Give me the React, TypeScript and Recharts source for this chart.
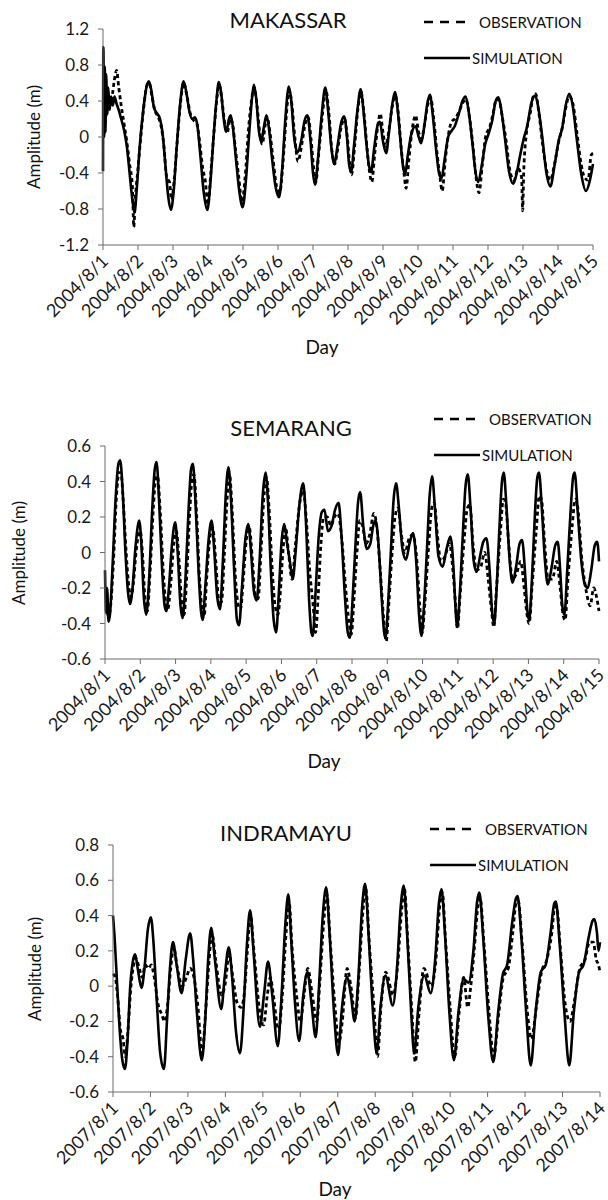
import { LineChart, Line, XAxis, YAxis } from "recharts";

// --- tick labels ---
const days2004 = [
  "2004/8/1", "2004/8/2", "2004/8/3", "2004/8/4", "2004/8/5", "2004/8/6", "2004/8/7", "2004/8/8",
  "2004/8/9", "2004/8/10", "2004/8/11", "2004/8/12", "2004/8/13", "2004/8/14", "2004/8/15",
];
const days2007 = [
  "2007/8/1", "2007/8/2", "2007/8/3", "2007/8/4", "2007/8/5", "2007/8/6", "2007/8/7",
  "2007/8/8", "2007/8/9", "2007/8/10", "2007/8/11", "2007/8/12", "2007/8/13", "2007/8/14",
];
const makTicks = [-1.2, -0.8, -0.4, 0, 0.4, 0.8, 1.2];
const semTicks = [-0.6, -0.4, -0.2, 0, 0.2, 0.4, 0.6];
const indTicks = [-0.6, -0.4, -0.2, 0, 0.2, 0.4, 0.6, 0.8];

// --- series: [day offset, amplitude m] ---
const makSim: [number, number][] = [
  [0, -0.38], [0.01, 1.0], [0.03, 0.0], [0.05, 0.78], [0.07, 0.05], [0.09, 0.7], [0.12, 0.25], [0.15, 0.55],
  [0.19, 0.3], [0.23, 0.45], [0.28, 0.35], [0.33, 0.45], [0.38, 0.38], [0.45, 0.3], [0.52, 0.2], [0.6, 0.08],
  [0.68, -0.1], [0.76, -0.4], [0.84, -0.7], [0.9, -0.84], [0.97, -0.55], [1.05, -0.1], [1.15, 0.3], [1.24, 0.55],
  [1.31, 0.62], [1.38, 0.52], [1.46, 0.32], [1.55, 0.26], [1.63, 0.2], [1.7, 0.05], [1.78, -0.3], [1.86, -0.65],
  [1.94, -0.81], [2.02, -0.6], [2.1, -0.15], [2.2, 0.35], [2.3, 0.62], [2.38, 0.5], [2.47, 0.28], [2.55, 0.2],
  [2.63, 0.22], [2.7, 0.12], [2.78, -0.2], [2.88, -0.62], [2.98, -0.81], [3.06, -0.55], [3.15, -0.05], [3.24, 0.4],
  [3.31, 0.61], [3.38, 0.48], [3.45, 0.2], [3.52, 0.06], [3.6, 0.2], [3.65, 0.24], [3.72, 0.08], [3.8, -0.25],
  [3.9, -0.62], [3.99, -0.78], [4.08, -0.5], [4.17, 0.0], [4.25, 0.4], [4.31, 0.58], [4.38, 0.42], [4.45, 0.08],
  [4.52, -0.05], [4.6, 0.12], [4.67, 0.24], [4.74, 0.1], [4.82, -0.2], [4.93, -0.55], [5.03, -0.67], [5.12, -0.35],
  [5.21, 0.2], [5.31, 0.56], [5.38, 0.4], [5.46, 0.0], [5.56, -0.17], [5.66, -0.05], [5.76, 0.18], [5.84, 0.24],
  [5.93, -0.05], [6.0, -0.4], [6.06, -0.53], [6.14, -0.25], [6.25, 0.25], [6.35, 0.55], [6.43, 0.3], [6.52, -0.1],
  [6.61, -0.3], [6.7, -0.1], [6.8, 0.15], [6.89, 0.23], [6.97, 0.0], [7.03, -0.3], [7.09, -0.39], [7.17, -0.1],
  [7.27, 0.3], [7.36, 0.53], [7.44, 0.3], [7.52, -0.05], [7.6, -0.32], [7.66, -0.39], [7.74, -0.15], [7.84, 0.12],
  [7.91, 0.17], [8.0, -0.05], [8.09, -0.18], [8.17, 0.05], [8.26, 0.35], [8.34, 0.5], [8.42, 0.3], [8.5, -0.05],
  [8.57, -0.32], [8.63, -0.42], [8.71, -0.2], [8.82, 0.05], [8.93, 0.12], [9.02, 0.0], [9.09, -0.07], [9.18, 0.12],
  [9.27, 0.38], [9.34, 0.47], [9.42, 0.25], [9.52, -0.15], [9.6, -0.4], [9.67, -0.46], [9.76, -0.25], [9.86, 0.0],
  [9.96, 0.07], [10.05, 0.12], [10.16, 0.25], [10.27, 0.4], [10.36, 0.45], [10.45, 0.28], [10.55, -0.05],
  [10.64, -0.38], [10.72, -0.5], [10.82, -0.32], [10.92, -0.08], [11.02, 0.04], [11.12, 0.18], [11.22, 0.4],
  [11.3, 0.44], [11.38, 0.3], [11.48, 0.0], [11.6, -0.38], [11.72, -0.52], [11.82, -0.4], [11.92, -0.2],
  [12.02, -0.02], [12.12, 0.12], [12.24, 0.38], [12.35, 0.46], [12.44, 0.32], [12.55, 0.0], [12.67, -0.4],
  [12.78, -0.55], [12.9, -0.32], [13.02, -0.04], [13.12, 0.1], [13.22, 0.35], [13.32, 0.48], [13.42, 0.35],
  [13.53, 0.0], [13.66, -0.4], [13.8, -0.6], [13.9, -0.5], [14.0, -0.3],
];
const makObs: [number, number][] = [
  [0.25, 0.4], [0.32, 0.62], [0.39, 0.74], [0.45, 0.55], [0.52, 0.35], [0.6, 0.15], [0.68, -0.05], [0.76, -0.3],
  [0.84, -0.55], [0.88, -1.0], [0.92, -0.7], [1.0, -0.35], [1.08, 0.0], [1.17, 0.35], [1.26, 0.58], [1.32, 0.6],
  [1.4, 0.45], [1.48, 0.3], [1.58, 0.22], [1.66, 0.12], [1.74, -0.1], [1.82, -0.45], [1.9, -0.5], [1.96, -0.7],
  [2.04, -0.45], [2.12, -0.05], [2.22, 0.4], [2.31, 0.6], [2.4, 0.45], [2.5, 0.25], [2.6, 0.18], [2.68, 0.15],
  [2.76, -0.05], [2.85, -0.35], [2.92, -0.48], [3.0, -0.75], [3.08, -0.4], [3.17, 0.05], [3.26, 0.45], [3.32, 0.58],
  [3.4, 0.4], [3.48, 0.15], [3.55, 0.05], [3.63, 0.2], [3.7, 0.15], [3.78, -0.12], [3.88, -0.45], [3.97, -0.72],
  [4.06, -0.45], [4.15, 0.05], [4.24, 0.4], [4.32, 0.55], [4.4, 0.35], [4.48, 0.05], [4.55, -0.08], [4.63, 0.12],
  [4.69, 0.22], [4.77, 0.05], [4.86, -0.25], [4.96, -0.55], [5.05, -0.62], [5.14, -0.3], [5.23, 0.2], [5.32, 0.52],
  [5.4, 0.35], [5.48, 0.0], [5.57, -0.27], [5.68, -0.08], [5.78, 0.15], [5.86, 0.22], [5.95, -0.05], [6.02, -0.35],
  [6.08, -0.5], [6.16, -0.2], [6.27, 0.25], [6.37, 0.52], [6.45, 0.28], [6.54, -0.15], [6.62, -0.3], [6.7, -0.15],
  [6.8, 0.1], [6.9, 0.2], [6.98, 0.0], [7.05, -0.3], [7.1, -0.42], [7.19, -0.1], [7.28, 0.3], [7.37, 0.5],
  [7.46, 0.25], [7.55, -0.15], [7.62, -0.4], [7.68, -0.5], [7.76, -0.2], [7.86, 0.15], [7.92, 0.26], [8.0, 0.05],
  [8.08, -0.1], [8.17, 0.08], [8.27, 0.35], [8.35, 0.46], [8.44, 0.25], [8.52, -0.12], [8.6, -0.4], [8.66, -0.57],
  [8.74, -0.25], [8.84, 0.1], [8.93, 0.24], [9.02, 0.05], [9.1, -0.02], [9.19, 0.15], [9.28, 0.36], [9.36, 0.44],
  [9.45, 0.2], [9.55, -0.2], [9.63, -0.45], [9.69, -0.6], [9.78, -0.25], [9.88, 0.05], [9.96, 0.17], [10.05, 0.2],
  [10.17, 0.28], [10.28, 0.38], [10.37, 0.42], [10.47, 0.22], [10.57, -0.1], [10.66, -0.45], [10.74, -0.62],
  [10.84, -0.3], [10.94, 0.02], [11.04, 0.1], [11.14, 0.25], [11.24, 0.42], [11.32, 0.4], [11.41, 0.22],
  [11.52, -0.05], [11.63, -0.38], [11.74, -0.48], [11.86, -0.35], [11.96, -0.45], [11.99, -0.82], [12.02, -0.4],
  [12.1, 0.05], [12.2, 0.25], [12.3, 0.46], [12.36, 0.48], [12.46, 0.25], [12.56, -0.08], [12.68, -0.38],
  [12.78, -0.48], [12.9, -0.3], [13.02, -0.05], [13.12, 0.1], [13.22, 0.32], [13.32, 0.45], [13.42, 0.38],
  [13.54, 0.05], [13.66, -0.3], [13.76, -0.45], [13.86, -0.48], [13.95, -0.2], [14.0, -0.18],
];

const semSim: [number, number][] = [
  [0, -0.1], [0.03, -0.34], [0.06, -0.2], [0.1, -0.39], [0.14, -0.35], [0.22, -0.05], [0.3, 0.3], [0.38, 0.5],
  [0.43, 0.52], [0.5, 0.35], [0.58, 0.0], [0.65, -0.22], [0.71, -0.29], [0.78, -0.2], [0.86, 0.02], [0.93, 0.15],
  [0.97, 0.18], [1.03, 0.05], [1.1, -0.25], [1.17, -0.35], [1.25, -0.15], [1.34, 0.25], [1.41, 0.47], [1.46, 0.51],
  [1.53, 0.3], [1.62, -0.1], [1.69, -0.3], [1.74, -0.33], [1.81, -0.2], [1.9, 0.05], [1.99, 0.17], [2.06, 0.0],
  [2.14, -0.3], [2.2, -0.37], [2.28, -0.15], [2.37, 0.25], [2.44, 0.47], [2.49, 0.5], [2.56, 0.3], [2.65, -0.1],
  [2.72, -0.33], [2.77, -0.38], [2.84, -0.2], [2.94, 0.08], [3.02, 0.18], [3.1, 0.0], [3.18, -0.25], [3.26, -0.32],
  [3.34, -0.05], [3.43, 0.35], [3.5, 0.48], [3.57, 0.3], [3.66, -0.1], [3.74, -0.38], [3.8, -0.41], [3.88, -0.2],
  [3.98, 0.08], [4.06, 0.16], [4.14, 0.0], [4.22, -0.22], [4.3, -0.27], [4.38, -0.05], [4.47, 0.32], [4.55, 0.45],
  [4.62, 0.28], [4.7, -0.1], [4.78, -0.38], [4.85, -0.45], [4.92, -0.25], [5.0, 0.05], [5.08, 0.16], [5.16, 0.05],
  [5.24, -0.05], [5.32, -0.15], [5.4, 0.0], [5.5, 0.25], [5.58, 0.37], [5.62, 0.39], [5.7, 0.15], [5.78, -0.25],
  [5.85, -0.45], [5.89, -0.47], [5.96, -0.25], [6.06, 0.1], [6.15, 0.23], [6.22, 0.24], [6.32, 0.12], [6.42, 0.15],
  [6.52, 0.24], [6.62, 0.28], [6.7, 0.1], [6.8, -0.25], [6.88, -0.45], [6.94, -0.48], [7.02, -0.25], [7.1, 0.05],
  [7.17, 0.28], [7.23, 0.34], [7.32, 0.15], [7.42, 0.02], [7.52, 0.05], [7.6, 0.15], [7.67, 0.18], [7.75, 0.05],
  [7.84, -0.25], [7.91, -0.45], [7.95, -0.48], [8.02, -0.3], [8.1, 0.0], [8.18, 0.3], [8.25, 0.39], [8.33, 0.25],
  [8.43, 0.02], [8.53, -0.04], [8.63, 0.05], [8.73, 0.11], [8.82, -0.05], [8.9, -0.35], [8.97, -0.47], [9.04, -0.3],
  [9.12, 0.0], [9.2, 0.32], [9.27, 0.43], [9.35, 0.25], [9.45, -0.02], [9.57, -0.08], [9.68, 0.02], [9.79, 0.09],
  [9.88, -0.1], [9.93, -0.3], [9.98, -0.42], [10.05, -0.25], [10.14, 0.1], [10.22, 0.38], [10.28, 0.44],
  [10.36, 0.25], [10.45, -0.05], [10.53, -0.11], [10.63, -0.02], [10.72, 0.06], [10.81, 0.08], [10.9, -0.1],
  [10.97, -0.33], [11.03, -0.4], [11.1, -0.2], [11.18, 0.15], [11.25, 0.4], [11.3, 0.45], [11.38, 0.25],
  [11.47, -0.05], [11.55, -0.17], [11.65, -0.08], [11.75, 0.05], [11.82, 0.07], [11.9, -0.1], [11.97, -0.33],
  [12.02, -0.38], [12.1, -0.15], [12.18, 0.2], [12.25, 0.42], [12.3, 0.45], [12.38, 0.25], [12.47, -0.05],
  [12.55, -0.18], [12.66, -0.08], [12.76, 0.04], [12.83, 0.06], [12.9, -0.1], [12.96, -0.3], [13.02, -0.35],
  [13.1, -0.1], [13.2, 0.25], [13.27, 0.43], [13.31, 0.45], [13.4, 0.22], [13.5, -0.05], [13.6, -0.18],
  [13.68, -0.2], [13.78, -0.1], [13.88, 0.04], [13.95, 0.06], [14.0, -0.05],
];
const semObs: [number, number][] = [
  [0.05, -0.3], [0.1, -0.36], [0.16, -0.3], [0.24, -0.05], [0.32, 0.3], [0.4, 0.45], [0.45, 0.45], [0.52, 0.28],
  [0.6, 0.0], [0.68, -0.2], [0.74, -0.25], [0.8, -0.18], [0.88, 0.0], [0.95, 0.1], [1.0, 0.12], [1.06, 0.0],
  [1.13, -0.25], [1.2, -0.33], [1.28, -0.1], [1.37, 0.25], [1.44, 0.42], [1.49, 0.43], [1.56, 0.25], [1.65, -0.1],
  [1.72, -0.28], [1.78, -0.32], [1.86, -0.18], [1.95, 0.05], [2.02, 0.12], [2.1, -0.05], [2.18, -0.3], [2.24, -0.35],
  [2.32, -0.12], [2.4, 0.22], [2.47, 0.42], [2.52, 0.44], [2.6, 0.2], [2.68, -0.15], [2.76, -0.33], [2.81, -0.36],
  [2.88, -0.15], [2.97, 0.08], [3.05, 0.14], [3.14, -0.05], [3.22, -0.26], [3.3, -0.28], [3.38, -0.02], [3.46, 0.3],
  [3.53, 0.44], [3.6, 0.25], [3.7, -0.15], [3.78, -0.3], [3.84, -0.32], [3.92, -0.15], [4.01, 0.08], [4.09, 0.14],
  [4.18, -0.05], [4.26, -0.24], [4.34, -0.26], [4.42, 0.0], [4.5, 0.3], [4.58, 0.42], [4.65, 0.25], [4.74, -0.1],
  [4.82, -0.3], [4.9, -0.35], [4.96, -0.25], [5.04, 0.0], [5.12, 0.14], [5.2, 0.0], [5.3, -0.15], [5.4, 0.05],
  [5.52, 0.28], [5.62, 0.35], [5.7, 0.2], [5.8, -0.1], [5.9, -0.3], [5.97, -0.45], [6.04, -0.25], [6.12, 0.05],
  [6.2, 0.2], [6.3, 0.2], [6.4, 0.15], [6.5, 0.2], [6.6, 0.22], [6.7, 0.1], [6.82, -0.2], [6.92, -0.4], [6.98, -0.46],
  [7.06, -0.25], [7.14, 0.0], [7.22, 0.18], [7.3, 0.15], [7.4, 0.05], [7.5, 0.1], [7.62, 0.22], [7.7, 0.15],
  [7.8, -0.1], [7.9, -0.38], [7.97, -0.5], [8.04, -0.3], [8.12, -0.05], [8.22, 0.2], [8.3, 0.25], [8.4, 0.1],
  [8.5, 0.0], [8.62, 0.08], [8.72, 0.1], [8.84, -0.05], [8.92, -0.3], [8.99, -0.45], [9.06, -0.3], [9.16, 0.0],
  [9.26, 0.25], [9.33, 0.28], [9.42, 0.1], [9.52, -0.05], [9.64, -0.02], [9.76, 0.05], [9.86, -0.1], [9.93, -0.28],
  [9.99, -0.43], [10.06, -0.25], [10.17, 0.05], [10.27, 0.25], [10.34, 0.27], [10.43, 0.05], [10.53, -0.1],
  [10.65, -0.08], [10.76, 0.0], [10.86, -0.15], [10.95, -0.32], [11.02, -0.42], [11.08, -0.25], [11.2, 0.1],
  [11.29, 0.3], [11.35, 0.28], [11.44, 0.05], [11.55, -0.15], [11.66, -0.12], [11.78, -0.05], [11.88, -0.2],
  [11.96, -0.35], [12.02, -0.4], [12.1, -0.2], [12.22, 0.12], [12.31, 0.32], [12.37, 0.3], [12.46, 0.05],
  [12.56, -0.15], [12.68, -0.15], [12.8, -0.05], [12.9, -0.2], [12.98, -0.35], [13.04, -0.38], [13.12, -0.15],
  [13.24, 0.15], [13.33, 0.3], [13.4, 0.25], [13.52, -0.05], [13.64, -0.22], [13.75, -0.3], [13.85, -0.2],
  [13.93, -0.25], [14.0, -0.33],
];

const indSim: [number, number][] = [
  [0, 0.4], [0.05, 0.25], [0.1, 0.05], [0.17, -0.22], [0.25, -0.42], [0.32, -0.47], [0.39, -0.3], [0.46, 0.0],
  [0.53, 0.14], [0.59, 0.18], [0.66, 0.1], [0.76, -0.01], [0.84, 0.1], [0.93, 0.32], [1.01, 0.39], [1.08, 0.25],
  [1.16, -0.05], [1.26, -0.38], [1.36, -0.47], [1.44, -0.2], [1.52, 0.1], [1.6, 0.25], [1.7, 0.12], [1.83, -0.04],
  [1.94, 0.15], [2.06, 0.3], [2.14, 0.15], [2.24, -0.15], [2.37, -0.42], [2.46, -0.2], [2.54, 0.15], [2.62, 0.33],
  [2.72, 0.15], [2.89, -0.13], [2.98, 0.05], [3.09, 0.22], [3.18, 0.05], [3.28, -0.25], [3.39, -0.38], [3.48, -0.15],
  [3.57, 0.22], [3.66, 0.43], [3.75, 0.2], [3.92, -0.23], [4.03, -0.05], [4.14, 0.14], [4.25, -0.05], [4.4, -0.34],
  [4.5, -0.05], [4.6, 0.35], [4.68, 0.52], [4.76, 0.25], [4.86, -0.1], [4.97, -0.31], [5.08, -0.05], [5.19, 0.08],
  [5.3, -0.1], [5.41, -0.29], [5.5, 0.0], [5.6, 0.4], [5.69, 0.56], [5.78, 0.3], [5.9, -0.15], [6.01, -0.39],
  [6.1, -0.15], [6.25, 0.05], [6.35, -0.05], [6.45, -0.2], [6.55, 0.05], [6.65, 0.45], [6.73, 0.58], [6.82, 0.3],
  [6.94, -0.15], [7.04, -0.38], [7.14, -0.12], [7.27, 0.06], [7.47, -0.11], [7.58, 0.1], [7.68, 0.45], [7.76, 0.57],
  [7.85, 0.3], [7.96, -0.15], [8.04, -0.38], [8.15, -0.12], [8.31, 0.06], [8.48, -0.04], [8.6, 0.15], [8.7, 0.47],
  [8.77, 0.55], [8.86, 0.3], [8.98, -0.15], [9.1, -0.42], [9.22, -0.15], [9.36, 0.04], [9.49, 0.02], [9.62, 0.2],
  [9.72, 0.48], [9.78, 0.53], [9.88, 0.28], [10.02, -0.18], [10.15, -0.43], [10.28, -0.15], [10.41, 0.07],
  [10.52, 0.12], [10.65, 0.35], [10.76, 0.5], [10.8, 0.51], [10.9, 0.28], [11.03, -0.15], [11.15, -0.45],
  [11.28, -0.15], [11.42, 0.08], [11.55, 0.12], [11.68, 0.3], [11.78, 0.47], [11.82, 0.48], [11.92, 0.25],
  [12.05, -0.15], [12.18, -0.45], [12.3, -0.15], [12.44, 0.08], [12.56, 0.12], [12.7, 0.28], [12.8, 0.37],
  [12.85, 0.38], [12.92, 0.3], [12.96, 0.2], [13.0, 0.25],
];
const indObs: [number, number][] = [
  [0, 0.07], [0.06, 0.05], [0.12, -0.05], [0.2, -0.25], [0.27, -0.3], [0.33, -0.4], [0.4, -0.25], [0.48, 0.0],
  [0.55, 0.12], [0.6, 0.16], [0.68, 0.12], [0.78, 0.05], [0.86, 0.12], [0.95, 0.1], [1.02, 0.12], [1.1, 0.05],
  [1.2, -0.1], [1.3, -0.16], [1.38, -0.2], [1.46, -0.1], [1.54, 0.1], [1.62, 0.22], [1.72, 0.1], [1.85, 0.0],
  [1.96, 0.05], [2.06, 0.1], [2.16, 0.05], [2.26, -0.1], [2.38, -0.38], [2.47, -0.15], [2.55, 0.1], [2.64, 0.3],
  [2.74, 0.15], [2.9, -0.05], [3.0, 0.02], [3.1, 0.18], [3.2, 0.05], [3.32, -0.1], [3.42, -0.12], [3.5, -0.05],
  [3.58, 0.18], [3.67, 0.4], [3.77, 0.18], [3.92, -0.15], [4.02, -0.22], [4.12, -0.05], [4.2, 0.05], [4.28, -0.05],
  [4.42, -0.25], [4.52, -0.05], [4.62, 0.3], [4.7, 0.48], [4.78, 0.22], [4.9, -0.05], [5.0, -0.2], [5.1, -0.05],
  [5.2, 0.1], [5.32, -0.05], [5.44, -0.2], [5.52, 0.02], [5.62, 0.35], [5.71, 0.52], [5.8, 0.25], [5.92, -0.1],
  [6.03, -0.32], [6.12, -0.2], [6.25, 0.1], [6.35, 0.0], [6.47, -0.18], [6.57, 0.08], [6.67, 0.42], [6.75, 0.55],
  [6.84, 0.25], [6.96, -0.1], [7.06, -0.4], [7.16, -0.1], [7.28, 0.08], [7.48, -0.05], [7.6, 0.12], [7.7, 0.42],
  [7.78, 0.55], [7.87, 0.25], [7.98, -0.15], [8.07, -0.43], [8.17, -0.15], [8.3, 0.1], [8.5, 0.0], [8.62, 0.15],
  [8.72, 0.45], [8.79, 0.53], [8.88, 0.25], [9.0, -0.12], [9.12, -0.4], [9.24, -0.15], [9.36, 0.05], [9.47, -0.12],
  [9.55, 0.0], [9.64, 0.2], [9.74, 0.45], [9.8, 0.5], [9.9, 0.25], [10.04, -0.15], [10.16, -0.4], [10.3, -0.15],
  [10.42, 0.05], [10.55, 0.1], [10.67, 0.3], [10.77, 0.48], [10.82, 0.48], [10.92, 0.25], [11.05, -0.12],
  [11.17, -0.3], [11.3, -0.12], [11.44, 0.08], [11.58, 0.15], [11.7, 0.28], [11.8, 0.45], [11.84, 0.45],
  [11.94, 0.22], [12.07, -0.1], [12.2, -0.2], [12.32, -0.08], [12.46, 0.1], [12.6, 0.15], [12.72, 0.25],
  [12.82, 0.25], [12.9, 0.15], [12.96, 0.12], [13.0, 0.08],
];

const FONT = "Lato, 'Open Sans', sans-serif";
const pts = (s: [number, number][]) => s.map(([t, v]) => ({ t, v }));
const fmtY = (v: number) => (v === 0 ? "0" : v.toFixed(1));

function DayTick(props: any) {
  const { x, y, payload, labels } = props;
  const ax = x + 2, ay = y + 6;
  return (
    <text x={ax} y={ay} transform={`rotate(-45 ${ax} ${ay})`} textAnchor="end" dy="0.35em"
      fontSize={18} fill="#1a1a1a" fontFamily={FONT}>{labels[payload.value]}</text>
  );
}

interface Panel {
  title: string; plotTop: number; plotBottom: number; plotLeft: number; plotRight: number;
  labels: string[]; yTicks: number[]; sim: [number, number][]; obs: [number, number][];
  titleX: number; titleY: number; legX: number; legY: number; yLabX: number; dayX: number; dayY: number;
}

function TidePanel({ p }: { p: Panel }) {
  const nDays = p.labels.length - 1;
  const yW = 50;
  const mTop = 10;
  const plotH = p.plotBottom - p.plotTop;
  const h = mTop + plotH + 110;
  const text = { position: "absolute" as const, fontFamily: FONT, color: "#111", whiteSpace: "nowrap" as const };
  return (
    <>
      <div style={{ position: "absolute", left: 0, top: p.plotTop - mTop }}>
        <LineChart width={608} height={h}
          margin={{ top: mTop, right: 608 - p.plotRight, bottom: 10, left: p.plotLeft - yW }}>
          <XAxis type="number" dataKey="t" domain={[0, nDays]} ticks={p.labels.map((_, i) => i)}
            interval={0} height={100} tickSize={5} stroke="#6b6b6b" allowDuplicatedCategory={false}
            tick={<DayTick labels={p.labels} />} />
          <YAxis type="number" domain={[p.yTicks[0], p.yTicks[p.yTicks.length - 1]]} ticks={p.yTicks}
            interval={0} width={yW} tickSize={5} tickMargin={9} stroke="#6b6b6b" tickFormatter={fmtY}
            tick={{ fontSize: 17, fill: "#1a1a1a", fontFamily: FONT }} />
          <Line data={pts(p.sim)} dataKey="v" type="monotone" dot={false} stroke="#000" strokeWidth={2.6}
            isAnimationActive={false} />
          <Line data={pts(p.obs)} dataKey="v" type="monotone" dot={false} stroke="#000" strokeWidth={2.8}
            strokeDasharray="4 3" isAnimationActive={false} />
        </LineChart>
      </div>
      <div style={{ ...text, left: p.titleX, top: p.titleY, transform: "translate(-50%, -50%)", fontSize: 22 }}>
        {p.title}
      </div>
      <svg style={{ position: "absolute", left: p.legX, top: p.legY - 4 }} width={50} height={44}>
        <line x1={0} y1={4} x2={42} y2={4} stroke="#000" strokeWidth={2.4} strokeDasharray="9 7" />
        <line x1={0} y1={40} x2={46} y2={40} stroke="#000" strokeWidth={2.4} />
      </svg>
      <div style={{ ...text, left: p.legX + 55, top: p.legY, transform: "translateY(-50%)", fontSize: 15 }}>OBSERVATION</div>
      <div style={{ ...text, left: p.legX + 48, top: p.legY + 36, transform: "translateY(-50%)", fontSize: 15 }}>SIMULATION</div>
      <div style={{ ...text, left: p.yLabX, top: (p.plotTop + p.plotBottom) / 2, fontSize: 17,
        transform: "translate(-50%, -50%) rotate(-90deg)" }}>Amplitude  (m)</div>
      <div style={{ ...text, left: p.dayX, top: p.dayY, transform: "translate(-50%, -50%)", fontSize: 19 }}>Day</div>
    </>
  );
}

const panels: Panel[] = [
  { title: "MAKASSAR", plotTop: 29, plotBottom: 245, plotLeft: 103, plotRight: 593, labels: days2004,
    yTicks: makTicks, sim: makSim, obs: makObs, titleX: 288, titleY: 19, legX: 424, legY: 22, yLabX: 33,
    dayX: 322, dayY: 346 },
  { title: "SEMARANG", plotTop: 446, plotBottom: 659, plotLeft: 105, plotRight: 599, labels: days2004,
    yTicks: semTicks, sim: semSim, obs: semObs, titleX: 291, titleY: 427, legX: 434, legY: 419, yLabX: 18,
    dayX: 324, dayY: 760 },
  { title: "INDRAMAYU", plotTop: 845, plotBottom: 1092, plotLeft: 113, plotRight: 600, labels: days2007,
    yTicks: indTicks, sim: indSim, obs: indObs, titleX: 286, titleY: 832, legX: 430, legY: 829, yLabX: 34,
    dayX: 335, dayY: 1188 },
];

export default function App() {
  return (
    <div style={{ position: "absolute", left: 0, top: 0, width: 608, height: 1200, background: "#fff", overflow: "hidden" }}>
      {panels.map((p) => <TidePanel key={p.title} p={p} />)}
    </div>
  );
}
